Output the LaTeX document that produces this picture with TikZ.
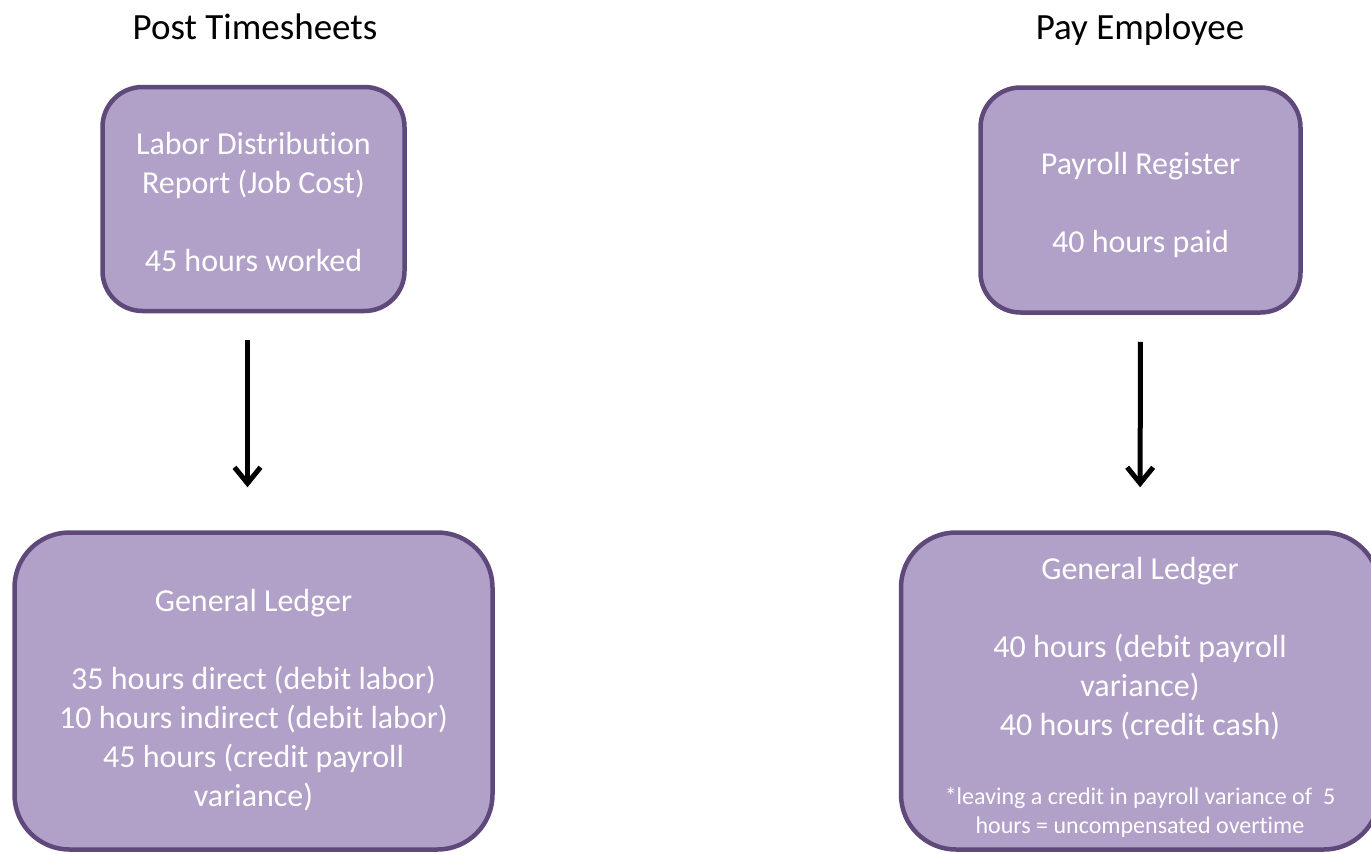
\documentclass[tikz,border=0pt]{standalone}
\usepackage{fontspec}
\setmainfont{Carlito}[Ligatures=NoCommon]
\usetikzlibrary{arrows.meta}

\definecolor{boxfill}{HTML}{B1A0C7}
\definecolor{boxline}{HTML}{5F497A}

\tikzset{
  box/.style={draw=boxline, line width=4.5pt, fill=boxfill, rounded corners=40pt,
    text=white, align=center, inner sep=0pt, font=\fontsize{32}{39}\selectfont},
  bigbox/.style={box, rounded corners=55pt, minimum width=478pt, minimum height=317pt},
  heading/.style={anchor=base, font=\fontsize{37}{44}\selectfont},
  flow/.style={line width=5pt, -{Straight Barb[length=16pt,width=26pt]}},
}
\newcommand{\footfont}{\fontsize{24}{29}\selectfont}
\newcommand{\padtop}[1]{\rule{0pt}{#1}}

\begin{document}
\begin{tikzpicture}[x=1pt,y=-1pt]
\useasboundingbox (0,0) rectangle (1371,854);
\clip (0,0) rectangle (1371,854);

\node [heading] (post) at (255,39) {Post Timesheets};
\node [heading] (pay) at (1140,39) {Pay Employee};

\node [box, minimum width=302pt, minimum height=224pt] (labor) at (253.5,199)
  {\padtop{29pt}Labor Distribution\\ Report (Job Cost)\\[39pt] 45 hours worked};
\node [box, minimum width=320pt, minimum height=225pt] (register) at (1140.5,200)
  {\padtop{33pt}Payroll Register\\[39pt] 40 hours paid};

\node [bigbox] (ledgerL) at (253.5,691)
  {\padtop{41pt}General Ledger\\[39pt] 35 hours direct (debit labor)\\ 10 hours indirect (debit labor)\\
   45 hours (credit payroll\\ variance)};
\node [bigbox] (ledgerR) at (1140,691)
  {\padtop{35pt}General Ledger\\[39pt] 40 hours (debit payroll\\ variance)\\ 40 hours (credit cash)\\[30pt]
   {\footfont *leaving a credit in payroll variance of\ \ 5}\\[-10pt]
   {\footfont hours = uncompensated overtime}};

\draw [flow, shorten <=27pt, shorten >=43pt] ([xshift=-6pt]labor.south) -- ([xshift=-6pt]ledgerL.north);
\draw [flow, shorten <=27pt, shorten >=43pt] (register.south) -- (ledgerR.north);

\end{tikzpicture}
\end{document}
